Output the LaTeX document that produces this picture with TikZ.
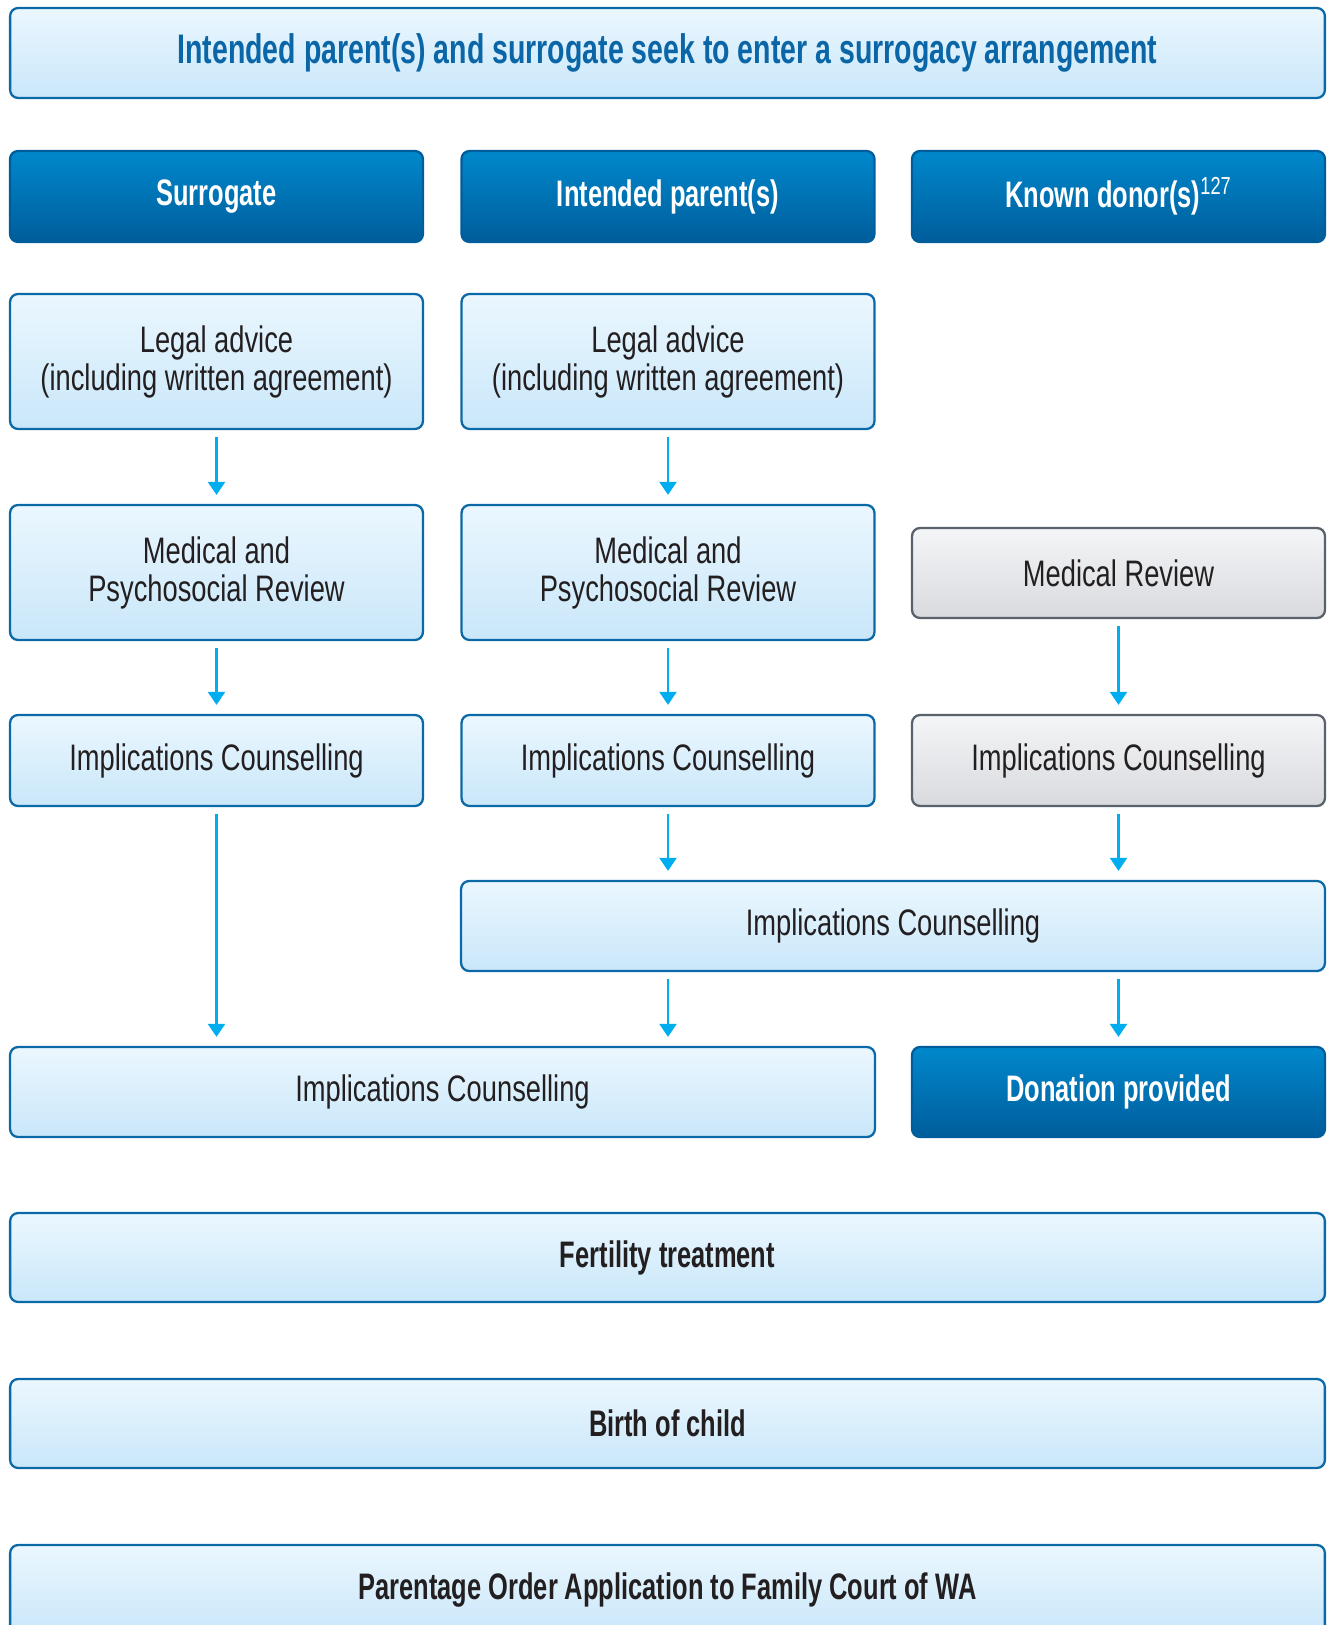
\documentclass[tikz,border=0pt]{standalone}
\usepackage{fontspec}
\setmainfont[FakeStretch=0.74,BoldFeatures={FakeStretch=0.69}]{Liberation Sans}
\usetikzlibrary{arrows.meta,shadings}

\definecolor{lighttop}{HTML}{EBF7FE}
\definecolor{lightbot}{HTML}{C9E7FA}
\definecolor{lightline}{HTML}{0B69A8}
\definecolor{darktop}{HTML}{0088CC}
\definecolor{darkbot}{HTML}{005D9B}
\definecolor{greytop}{HTML}{F4F5F7}
\definecolor{greybot}{HTML}{D8DADE}
\definecolor{greyline}{HTML}{59616A}
\definecolor{titleblue}{HTML}{0A66A6}
\definecolor{flowcyan}{HTML}{00AEEF}
\definecolor{textgrey}{HTML}{231F20}

\begin{document}
\begin{tikzpicture}
[x=0.02cm,y=-0.02cm,
box/.style={rounded corners=0.16cm,line width=1.3pt,inner sep=0pt,align=center,
  font=\fontsize{21}{21.6}\selectfont},
lightbox/.style={box,draw=lightline,top color=lighttop,bottom color=lightbot,text=textgrey},
boldbox/.style={lightbox,font=\fontsize{21}{21.6}\selectfont\bfseries},
titlebox/.style={lightbox,text=titleblue,font=\fontsize{23.5}{24}\selectfont\bfseries},
darkbox/.style={box,draw=darkbot,top color=darktop,bottom color=darkbot,text=white,
  font=\fontsize{21}{21.6}\selectfont\bfseries},
greybox/.style={box,draw=greyline,top color=greytop,bottom color=greybot,text=textgrey},
colbox/.style={minimum width=8.26cm},
widebox/.style={minimum width=26.3cm},
flow/.style={-{Triangle[width=0.34cm,length=0.26cm]},flowcyan,line width=1.3pt,
  shorten <=0.14cm,shorten >=0.18cm}]

\useasboundingbox (0,0) rectangle (1327,1625);
\clip (0,0) rectangle (1327,1625);

%draw the title
\node[titlebox,widebox,minimum height=1.8cm] (start) at (667.5,53)
  {Intended parent(s) and surrogate seek to enter a surrogacy arrangement};

%draw the three headers
\node[darkbox,colbox,minimum height=1.82cm] (surr) at (216.5,196.5) {Surrogate};
\node[darkbox,colbox,minimum height=1.82cm] (ip) at (668,196.5) {Intended parent(s)};
\node[darkbox,colbox,minimum height=1.82cm] (donor) at (1118.5,196.5)
  {Known donor(s)\textsuperscript{\fontsize{14}{14}\selectfont\mdseries 127}};

%surrogate column
\node[lightbox,colbox,minimum height=2.7cm] (surrlegal) at (216.5,361.5)
  {Legal advice\\(including written agreement)};
\node[lightbox,colbox,minimum height=2.7cm] (surrmed) at (216.5,572.5)
  {Medical and\\Psychosocial Review};
\node[lightbox,colbox,minimum height=1.82cm] (surrimpl) at (216.5,760.5)
  {Implications Counselling};

%intended parent(s) column
\node[lightbox,colbox,minimum height=2.7cm] (iplegal) at (668,361.5)
  {Legal advice\\(including written agreement)};
\node[lightbox,colbox,minimum height=2.7cm] (ipmed) at (668,572.5)
  {Medical and\\Psychosocial Review};
\node[lightbox,colbox,minimum height=1.82cm] (ipimpl) at (668,760.5)
  {Implications Counselling};

%known donor column
\node[greybox,colbox,minimum height=1.8cm] (donormed) at (1118.5,573)
  {Medical Review};
\node[greybox,colbox,minimum height=1.82cm] (donorimpl) at (1118.5,760.5)
  {Implications Counselling};

%joint counselling
\node[lightbox,minimum width=17.28cm,minimum height=1.8cm] (jointimpl) at (893,926)
  {Implications Counselling};
\node[lightbox,minimum width=17.3cm,minimum height=1.8cm] (finalimpl) at (442.5,1092)
  {Implications Counselling};
\node[darkbox,colbox,minimum height=1.8cm] (donation) at (1118.5,1092)
  {Donation provided};

%treatment and after
\node[boldbox,widebox,minimum height=1.78cm] (treat) at (667.5,1257.5) {Fertility treatment};
\node[boldbox,widebox,minimum height=1.78cm] (birth) at (667.5,1423.5) {Birth of child};
\node[boldbox,widebox,minimum height=1.8cm] (order) at (667.5,1590)
  {Parentage Order Application to Family Court of WA};

%draw the arrows
\draw[flow] (surrlegal) -- (surrmed);
\draw[flow] (surrmed) -- (surrimpl);
\draw[flow] (surrimpl.south) -- (surrimpl.south |- finalimpl.north);
\draw[flow] (iplegal) -- (ipmed);
\draw[flow] (ipmed) -- (ipimpl);
\draw[flow] (ipimpl.south) -- (ipimpl.south |- jointimpl.north);
\draw[flow] (jointimpl.south -| ipimpl) -- (finalimpl.north -| ipimpl);
\draw[flow] (donormed) -- (donorimpl);
\draw[flow] (donorimpl.south) -- (donorimpl.south |- jointimpl.north);
\draw[flow] (jointimpl.south -| donation) -- (donation);

\end{tikzpicture}
\end{document}
